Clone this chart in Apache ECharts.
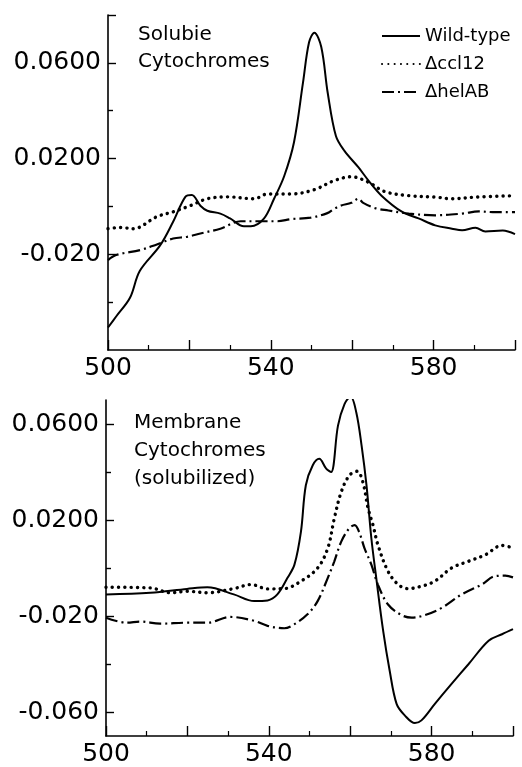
<!DOCTYPE html>
<html><head><meta charset="utf-8">
<script src="https://cdn.jsdelivr.net/npm/echarts@6/dist/echarts.min.js"></script>
<style>html,body{margin:0;padding:0;background:#fff}#c{width:522px;height:767px}</style>
</head><body><div id="c"></div>
<script>
// ---- data (wavelength nm, absorbance difference) ----
const seriesNames = ['Wild-type', '\u0394ccl12', '\u0394helAB'];
const panelTitles = ['Solubie\nCytochromes', 'Membrane\nCytochromes\n(solubilized)'];
const xLabelValues = [500, 540, 580];
const topYLabelValues = [0.06, 0.02, -0.02];
const topYLabelTexts = ['0.0600', '0.0200', '-0.020'];
const topYMajorTicks = [0.08, 0.06, 0.02, -0.02];
const topYMinorTicks = [0.04, 0.0, -0.04];
const botYLabelValues = [0.06, 0.02, -0.02, -0.06];
const botYLabelTexts = ['0.0600', '0.0200', '-0.020', '-0.060'];
const botYMajorTicks = [0.06, 0.02, -0.02, -0.06];
const botYMinorTicks = [0.04, 0.0, -0.04];

const solWild = [[500,-0.0506],[502,-0.046],[505.4,-0.0382],[507.8,-0.027],[512.8,-0.0163],[516,-0.0064],[519,0.004],[520.6,0.0048],[522.7,0.0003],[524.4,-0.0018],[527.6,-0.003],[530,-0.005],[533.4,-0.0083],[535.1,-0.0083],[538.3,-0.0051],[540.8,0.0032],[543.3,0.0127],[545.7,0.0268],[547.9,0.0516],[549.4,0.0686],[550.7,0.0726],[552.4,0.0666],[554,0.0473],[556,0.0294],[558.1,0.0232],[561.5,0.0164],[564,0.0108],[567.2,0.0045],[572.2,-0.0022],[576.3,-0.005],[580.4,-0.0079],[584.5,-0.0093],[587,-0.01],[590.3,-0.0089],[592.7,-0.0105],[597,-0.0101],[600,-0.0116]];
const solCcl = [[500,-0.0093],[503,-0.0088],[506.2,-0.0093],[512,-0.0043],[516.1,-0.0022],[520.2,0.0003],[524.4,0.0032],[529.3,0.004],[535.9,0.0032],[539.2,0.0052],[545,0.0052],[550.7,0.007],[555.6,0.0108],[559.8,0.0124],[564,0.0101],[568,0.0062],[573.9,0.0045],[580.4,0.0039],[584.5,0.0032],[590.3,0.0039],[600,0.0045]];
const solHel = [[500,-0.0224],[502,-0.0203],[508,-0.0182],[512,-0.0159],[516,-0.0134],[519.4,-0.0127],[522.7,-0.0113],[527.6,-0.0093],[532.6,-0.0062],[537.5,-0.0062],[541.6,-0.0062],[545,-0.0053],[549.8,-0.0047],[553.9,-0.0028],[555.6,-0.001],[557.3,0.0004],[559.8,0.0015],[561.5,0.0032],[562.7,0.0015],[565.6,-0.0007],[568.9,-0.0017],[573.9,-0.003],[580.4,-0.0037],[587,-0.003],[591.1,-0.0021],[595.2,-0.0024],[600,-0.0024]];

const memWild = [[500,-0.011],[510.9,-0.0103],[519.9,-0.0087],[524.9,-0.008],[531.4,-0.011],[536.4,-0.0138],[539.7,-0.0135],[542.1,-0.011],[544.6,-0.0041],[546.3,0.0014],[547.9,0.0152],[549.1,0.0345],[550.8,0.0428],[552.4,0.0455],[554.1,0.0414],[555.3,0.04],[557,0.0593],[558.6,0.0683],[560.1,0.0714],[561.5,0.0648],[562.8,0.051],[564,0.0345],[565.2,0.0124],[566.4,-0.0041],[568.1,-0.0262],[569.7,-0.0428],[571.4,-0.0566],[573.4,-0.0614],[575.9,-0.0646],[577.5,-0.0635],[580.8,-0.0566],[584.9,-0.0483],[589.1,-0.04],[594,-0.0303],[597.3,-0.0276],[600,-0.0255]];
const memCcl = [[500,-0.008],[510.9,-0.0083],[515.8,-0.0103],[519.9,-0.0097],[524.9,-0.0103],[531.4,-0.0086],[535.6,-0.0069],[539.7,-0.0087],[543.8,-0.0086],[547.9,-0.0055],[552,0.0],[554.5,0.0083],[556.1,0.0207],[557.8,0.0317],[559.8,0.0386],[561.7,0.0403],[563.1,0.0359],[564.4,0.0248],[565.6,0.0179],[566.8,0.0097],[569.3,-0.0014],[571.8,-0.0069],[574.2,-0.0086],[577.5,-0.0076],[580.8,-0.0055],[584.9,0.0],[589.1,0.0028],[593.2,0.0055],[597.3,0.0094],[600,0.0083]];
const memHel = [[500,-0.0207],[505.1,-0.0228],[508.4,-0.0223],[513.3,-0.0232],[519.9,-0.0228],[524.9,-0.0228],[530.6,-0.0204],[536.4,-0.022],[539.7,-0.0241],[543.8,-0.0251],[546.3,-0.0234],[549.5,-0.0193],[552,-0.0138],[554.5,-0.0041],[556.1,0.0028],[557.8,0.011],[559.8,0.0166],[561.1,0.0179],[562.3,0.0145],[563.5,0.0083],[565.2,0.0014],[566.8,-0.0069],[569.3,-0.0152],[572.6,-0.0196],[575.1,-0.0207],[578.4,-0.0196],[582.5,-0.0166],[587.4,-0.011],[592.3,-0.0069],[595.6,-0.0034],[598.1,-0.0032],[600,-0.0039]];

// ---- styles ----
const FONT = 'DejaVu Sans';
const styles = [
  {type:'solid', width:2},
  {type:[0.1,6.2], width:3.4, cap:'round'},
  {type:[12,4,2,4], width:2.2}
];
function labelFmt(vals, texts){
  return function(v){
    for (let i=0;i<vals.length;i++) if (Math.abs(v-vals[i])<1e-6) return texts[i];
    return '';
  };
}
function xAxis(gi){
  return {
    type:'value', gridIndex:gi, min:500, max:600, interval:20,
    axisLine:{show:true, onZero:false, lineStyle:{color:'#000', width:1.6}},
    axisTick:{show:true, inside:true, length:10, lineStyle:{color:'#000', width:1.4}},
    minorTick:{show:true, splitNumber:2, length:5, lineStyle:{color:'#000', width:1.2}},
    axisLabel:{customValues:xLabelValues, color:'#000', fontFamily:FONT, fontSize:25, margin:6},
    splitLine:{show:false}
  };
}
function yAxis(gi, mn, mx, tickVals, lv, lt){
  return {
    type:'value', gridIndex:gi, min:mn, max:mx,
    axisLine:{show:true, onZero:false, lineStyle:{color:'#000', width:1.6}},
    axisTick:{show:true, inside:true, length:8, customValues:tickVals, lineStyle:{color:'#000', width:1.4}},
    axisLabel:{customValues:lv, formatter:labelFmt(lv, lt), color:'#000', fontFamily:FONT, fontSize:25, margin:7},
    splitLine:{show:false}
  };
}
function yMinorAxis(gi, mn, mx, tickVals){
  return {
    type:'value', gridIndex:gi, min:mn, max:mx, position:'left',
    axisLine:{show:false, onZero:false},
    axisTick:{show:true, inside:true, length:5, customValues:tickVals, lineStyle:{color:'#000', width:1.4}},
    axisLabel:{show:false},
    splitLine:{show:false}
  };
}
function line(name, data, si, gi){
  return {
    type:'line', name:name, data:data, xAxisIndex:gi, yAxisIndex:gi,
    showSymbol:false, symbol:'none', smooth:0.35, silent:true,
    lineStyle:Object.assign({color:'#000'}, styles[si]),
    itemStyle:{color:'#000'}
  };
}
const chart = echarts.init(document.getElementById('c'), null, {renderer:'canvas'});
chart.setOption({
  animation:false,
  backgroundColor:'#fff',
  grid:[
    {left:108, right:7, top:15, height:335},
    {left:106, right:9, top:400, height:338}
  ],
  title:[
    {text:panelTitles[0], left:133, top:16, textStyle:{fontFamily:FONT, fontWeight:'normal', fontSize:20, lineHeight:27, color:'#000'}},
    {text:panelTitles[1], left:129, top:404, textStyle:{fontFamily:FONT, fontWeight:'normal', fontSize:20, lineHeight:28, color:'#000'}}
  ],
  legend:{
    data:seriesNames, orient:'vertical', left:376, top:21, itemWidth:38, itemHeight:10, itemGap:8,
    itemStyle:{color:'rgba(0,0,0,0)', borderWidth:0, opacity:0},
    textStyle:{fontFamily:FONT, fontSize:18, lineHeight:20, color:'#000'}
  },
  xAxis:[xAxis(0), xAxis(1)],
  yAxis:[
    yAxis(0, -0.06, 0.08, topYMajorTicks, topYLabelValues, topYLabelTexts),
    yAxis(1, -0.07, 0.07, botYMajorTicks, botYLabelValues, botYLabelTexts),
    yMinorAxis(0, -0.06, 0.08, topYMinorTicks),
    yMinorAxis(1, -0.07, 0.07, botYMinorTicks)
  ],
  series:[
    line(seriesNames[0], solWild, 0, 0),
    line(seriesNames[1], solCcl, 1, 0),
    line(seriesNames[2], solHel, 2, 0),
    line(seriesNames[0], memWild, 0, 1),
    line(seriesNames[1], memCcl, 1, 1),
    line(seriesNames[2], memHel, 2, 1)
  ]
});
</script></body></html>
